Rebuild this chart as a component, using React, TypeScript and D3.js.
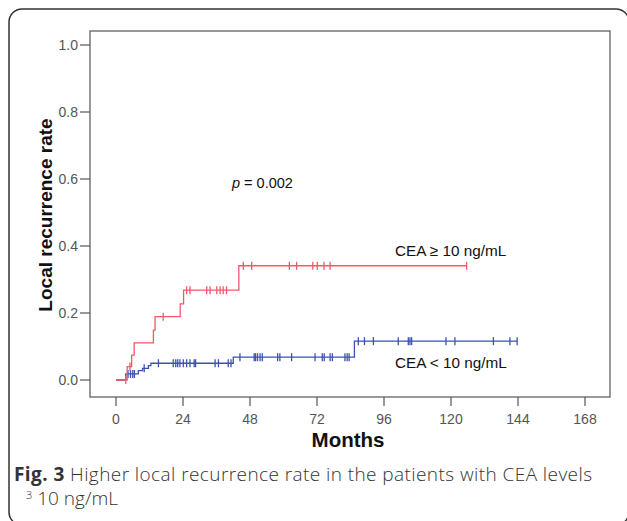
import React from "react";
import * as d3 from "d3";

// step points [month, cumulative recurrence]
const highSteps: [number, number][] = [
  [0, 0], [4, 0.04], [5.6, 0.074], [6.5, 0.111], [13.4, 0.149], [14, 0.189],
  [23, 0.227], [24.2, 0.268], [44, 0.341],
];
const highEnd = 125.6;
const highCensored = [
  3.5, 5, 16.9, 25.3, 26.5, 32.5, 33.7, 36.1, 37.3, 38.4, 39.6, 45.6, 48.6,
  62.1, 64.7, 70.5, 72.1, 74.5, 76.7, 125.6,
];

const lowSteps: [number, number][] = [
  [0, 0], [3.5, 0.018], [8, 0.028], [9.5, 0.035], [11.6, 0.043], [12.5, 0.05],
  [42, 0.068], [85.4, 0.116],
];
const lowEnd = 143.7;
const lowCensored = [
  4.3, 5.2, 6.0, 6.6, 10.1, 15.2, 20.5, 21.4, 22.1, 22.9, 24.1, 25.3, 26.5,
  28.0, 28.5, 35.5, 36.7, 40.2, 41.2, 44.4, 49.5, 50, 50.7, 51.6, 52.4, 57.9,
  58.7, 62.9, 71.3, 73.9, 74.6, 76.7, 77.5, 82, 82.8, 83.5, 86.8, 89, 92.2,
  101.1, 104.7, 105.3, 105.9, 118.2, 121.4, 135.2, 141.1, 143.7,
];

const xTicks = [0, 24, 48, 72, 96, 120, 144, 168];
const yTicks = [0, 0.2, 0.4, 0.6, 0.8, 1.0];

const RED = "#f2586a";
const BLUE = "#3d52b0";

const x = d3.scaleLinear().domain([0, 168]).range([116, 585]);
const y = d3.scaleLinear().domain([0, 1]).range([380, 45]);

const box = { left: 90, top: 31, right: 610, bottom: 397 };

const stepAt = (steps: [number, number][], t: number) => {
  let v = 0;
  for (const s of steps) if (s[0] <= t) v = s[1];
  return v;
};

const line = d3
  .line<[number, number]>()
  .x((d) => x(d[0]))
  .y((d) => y(d[1]))
  .curve(d3.curveStepAfter);

function Curve({ steps, end, censored, color }: any) {
  const pts: [number, number][] = [...steps, [end, steps[steps.length - 1][1]]];
  return (
    <g stroke={color} strokeWidth={1.3} fill="none">
      <path d={line(pts) || ""} />
      {censored.map((t: number, i: number) => {
        const cx = x(t);
        const cy = y(stepAt(steps, t));
        return <line key={i} x1={cx} x2={cx} y1={cy - 4} y2={cy + 4} />;
      })}
    </g>
  );
}

export default function App() {
  const axisFont = "'Liberation Sans', Arial, sans-serif";
  const capFont = "'Open Sans', sans-serif";
  return (
    <svg
      width={627}
      height={521}
      style={{ position: "absolute", left: 0, top: 0, background: "#fff" }}
    >
      <rect x={9} y={9} width={620} height={516} rx={13} fill="#fff" stroke="#333" strokeWidth={1.5} />

      <rect
        x={box.left}
        y={box.top}
        width={box.right - box.left}
        height={box.bottom - box.top}
        fill="none"
        stroke="#555"
        strokeWidth={1.2}
      />

      {/* y axis */}
      {yTicks.map((t) => (
        <g key={t}>
          <line x1={80} x2={box.left} y1={y(t)} y2={y(t)} stroke="#555" strokeWidth={1.2} />
          <text x={78} y={y(t) + 5} textAnchor="end" fontFamily={axisFont} fontSize={14} fill="#555">
            {t.toFixed(1)}
          </text>
        </g>
      ))}
      <text
        transform={`translate(52,215) rotate(-90)`}
        textAnchor="middle"
        fontFamily={axisFont}
        fontWeight="bold"
        fontSize={19}
        fill="#111"
      >
        Local recurrence rate
      </text>

      {/* x axis */}
      {xTicks.map((t) => (
        <g key={t}>
          <line x1={x(t)} x2={x(t)} y1={box.bottom} y2={box.bottom + 9} stroke="#555" strokeWidth={1.2} />
          <text x={x(t)} y={424} textAnchor="middle" fontFamily={axisFont} fontSize={14} fill="#555">
            {t}
          </text>
        </g>
      ))}
      <text x={348} y={447} textAnchor="middle" fontFamily={axisFont} fontWeight="bold" fontSize={20.5} fill="#111">
        Months
      </text>

      <Curve steps={lowSteps} end={lowEnd} censored={lowCensored} color={BLUE} />
      <Curve steps={highSteps} end={highEnd} censored={highCensored} color={RED} />

      <text x={232} y={188} fontFamily={axisFont} fontSize={14.5} fill="#111">
        <tspan fontStyle="italic">p</tspan> = 0.002
      </text>
      <text x={395} y={256} fontFamily={axisFont} fontSize={15.3} fill="#111">
        CEA ≥ 10 ng/mL
      </text>
      <text x={395} y={368} fontFamily={axisFont} fontSize={15.3} fill="#111">
        CEA &lt; 10 ng/mL
      </text>

      {/* caption */}
      <text x={14} y={481} fontFamily={capFont} fontSize={19} fontWeight={300} fill="#333" textLength={578} lengthAdjust="spacing">
        <tspan fontWeight="bold">Fig. 3</tspan> Higher local recurrence rate in the patients with CEA levels
      </text>
      <text x={26} y={505} fontFamily={capFont} fontSize={19} fontWeight={300} fill="#333">
        <tspan fontSize={11} dy={-6}>3</tspan>
        <tspan dy={6}> 10 ng/mL</tspan>
      </text>
    </svg>
  );
}
